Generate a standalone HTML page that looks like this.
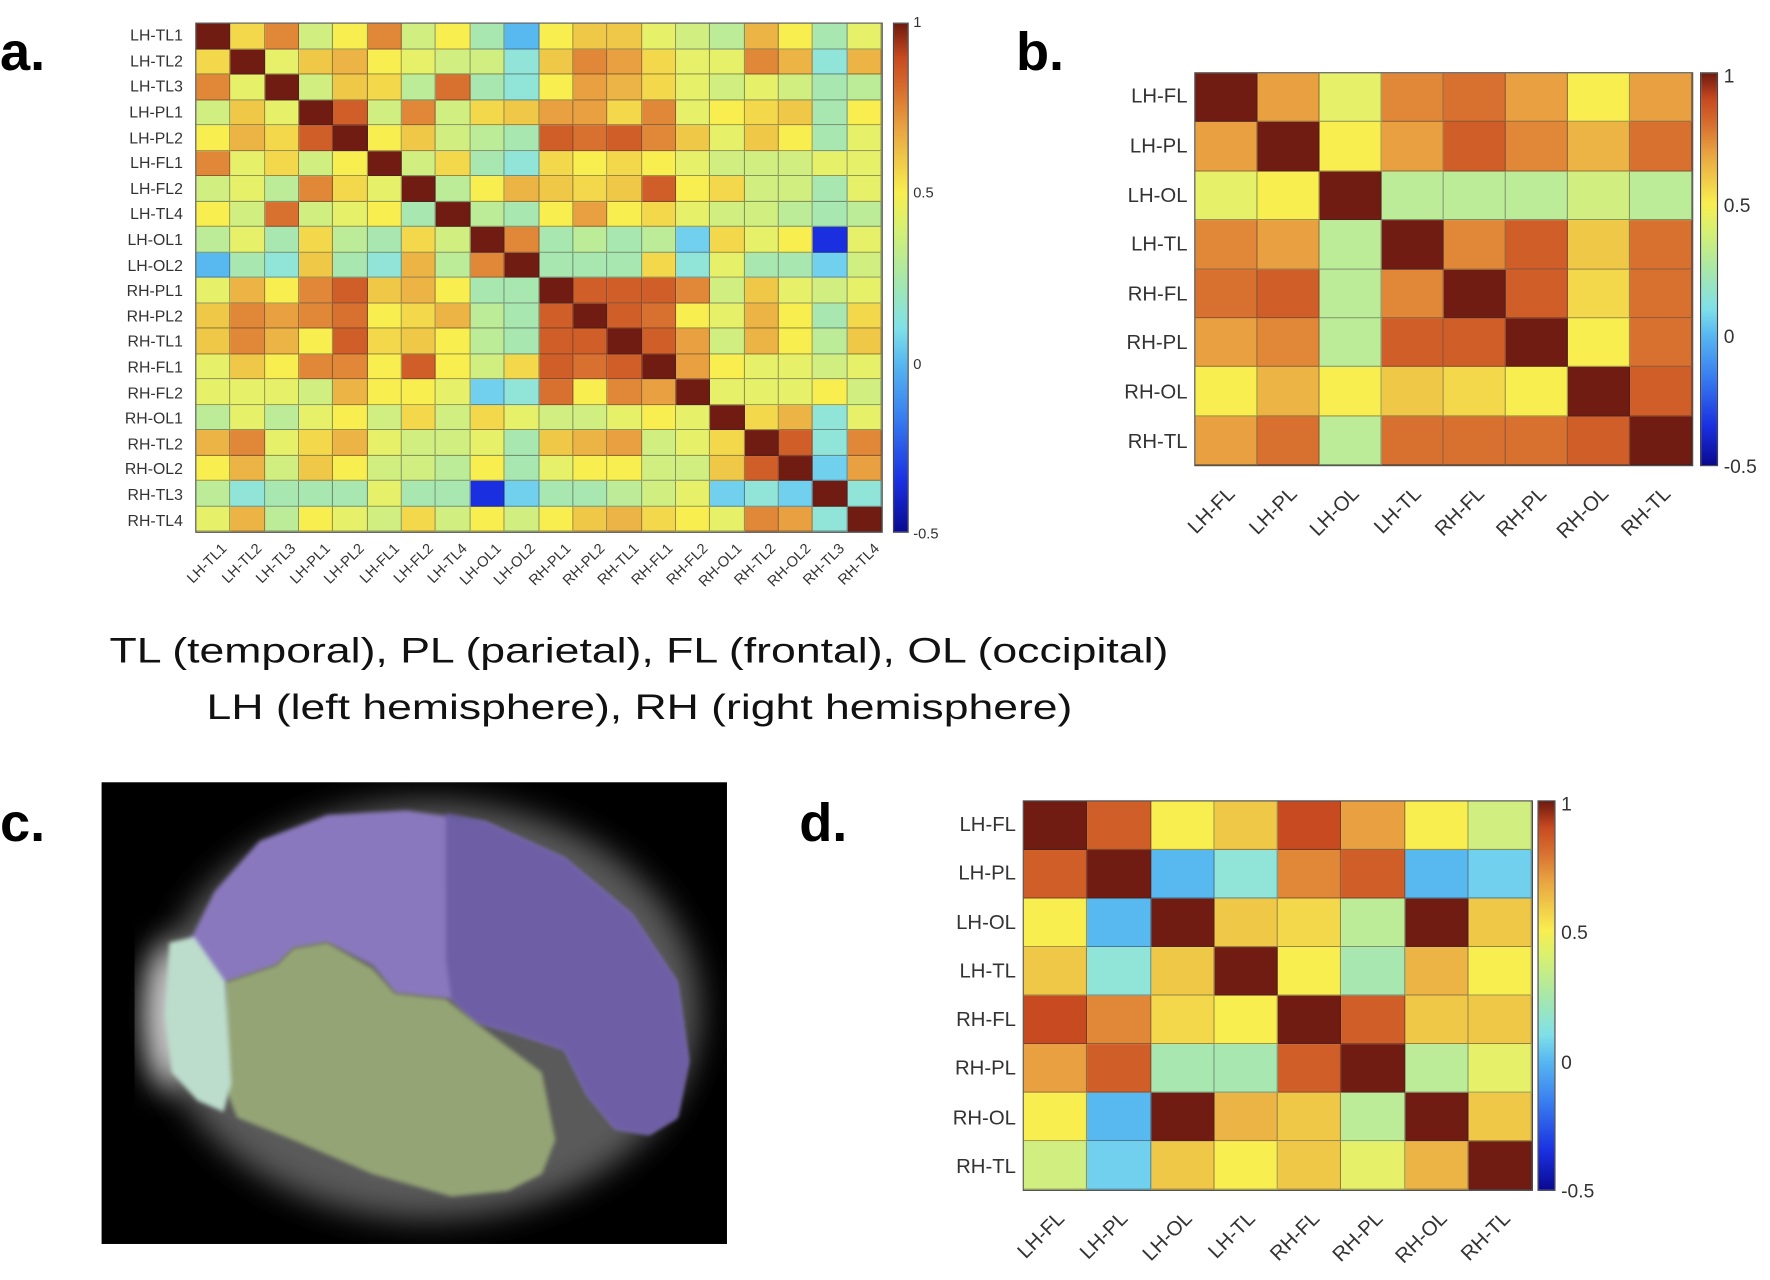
<!DOCTYPE html>
<html><head><meta charset="utf-8"><style>
html,body{margin:0;padding:0;background:#fff;width:1770px;height:1280px;overflow:hidden;}
#w{position:absolute;left:0;top:0;width:1568px;height:1134px;transform:scale(1.12883);transform-origin:0 0;font-family:"Liberation Sans",sans-serif;color:#333;}
svg{position:absolute;left:0;top:0;}
.m{position:absolute;display:grid;border:1px solid #444;box-sizing:border-box;}
.m i{display:block;border-right:1px solid rgba(40,40,40,.45);border-bottom:1px solid rgba(40,40,40,.45);}
.a{background:#1a30e0}.b{background:#58b8f0}.c{background:#70d0ee}.d{background:#90e4d8}.e{background:#a8e8b0}.f{background:#bcec98}.g{background:#d0ef80}.h{background:#e6f068}.i{background:#f8ee50}.j{background:#f4d84c}.k{background:#f0c848}.l{background:#ecb444}.mm{background:#e8a040}.n{background:#e08838}.o{background:#d87030}.p{background:#d05e28}.q{background:#c84a20}.z{background:#701c12}
.rl{position:absolute;display:flex;flex-direction:column;text-align:right;}
.rl div{flex:1;display:flex;align-items:center;justify-content:flex-end;}
.cl{position:absolute;width:0;height:0;}
.cl span{position:absolute;right:0;top:-8px;white-space:nowrap;transform-origin:right center;transform:rotate(-45deg);}
.cb{position:absolute;border:1px solid #444;box-sizing:border-box;background:linear-gradient(to top,#0a0a90 0%,#1a30e0 10%,#3a80f0 23%,#58b8f0 33.3%,#80e0e8 40%,#a8e8a8 50%,#d8f070 60%,#f8ee50 66.7%,#f0c848 73.3%,#e8a040 80%,#d87030 86.7%,#c84a20 93.3%,#6e1a10 100%);}
.t{position:absolute;white-space:nowrap;}
</style></head><body><div id="w">
<svg width="1568" height="1134" viewBox="0 0 1568 1134">
<defs>
<filter id="bl" x="-20%" y="-20%" width="140%" height="140%"><feGaussianBlur stdDeviation="14"/></filter>
<filter id="bl2"><feGaussianBlur stdDeviation="2"/></filter>
<clipPath id="cp"><rect x="90" y="693" width="554" height="409"/></clipPath>
</defs>
<g font-family="Liberation Sans,sans-serif" font-weight="bold" font-size="48" fill="#000">
<text x="0" y="62">a.</text><text x="900" y="62">b.</text><text x="0" y="745">c.</text><text x="708" y="745">d.</text>
</g>
<g font-family="Liberation Sans,sans-serif" font-size="31" fill="#111">
<text x="97" y="587" textLength="938" lengthAdjust="spacingAndGlyphs">TL (temporal), PL (parietal), FL (frontal), OL (occipital)</text>
<text x="183" y="637" textLength="767" lengthAdjust="spacingAndGlyphs">LH (left hemisphere), RH (right hemisphere)</text>
</g>
<rect x="90" y="693" width="554" height="409" fill="#000"/>
<g clip-path="url(#cp)">
<ellipse cx="380" cy="895" rx="240" ry="185" fill="#5a5a5a" filter="url(#bl)"/>
<ellipse cx="150" cy="900" rx="22" ry="65" fill="#ccc" filter="url(#bl)"/>
<path d="M155,890 L165,840 190,790 230,745 290,722 360,718 430,728 500,760 560,810 600,870 610,940 600,990 575,1005 545,1000 520,970 500,930 455,915 420,905 400,885 350,880 330,855 290,835 260,840 245,855 200,870 160,880Z" fill="#8a78be" filter="url(#bl2)"/>
<path d="M395,720 L430,728 500,760 560,810 600,870 610,940 600,990 575,1005 545,1000 520,970 500,930 455,915 420,905 400,885 395,850Z" fill="#6658a0" opacity="0.8" filter="url(#bl2)"/>
<path d="M200,870 L245,855 260,840 290,835 330,858 350,880 395,885 420,905 440,920 480,950 492,1010 480,1040 450,1055 400,1060 330,1040 260,1010 210,990 198,960Z" fill="#94a474" filter="url(#bl2)"/>
<path d="M150,835 L172,830 200,870 205,960 198,985 175,975 152,950 146,900Z" fill="#bcdccc" filter="url(#bl2)"/>
</g>
</svg>

<!-- Panel A -->
<div class="m" style="left:173px;top:20px;width:609px;height:452px;grid-template-columns:repeat(20,1fr);grid-template-rows:repeat(20,1fr)">
<i class=z></i><i class=j></i><i class=n></i><i class=g></i><i class=i></i><i class=n></i><i class=g></i><i class=i></i><i class=e></i><i class=b></i><i class=i></i><i class=k></i><i class=k></i><i class=h></i><i class=g></i><i class=f></i><i class=l></i><i class=i></i><i class=e></i><i class=h></i>
<i class=j></i><i class=z></i><i class=h></i><i class=k></i><i class=l></i><i class=i></i><i class=h></i><i class=g></i><i class=g></i><i class=d></i><i class=k></i><i class=n></i><i class=mm></i><i class=j></i><i class=h></i><i class=h></i><i class=n></i><i class=l></i><i class=d></i><i class=l></i>
<i class=n></i><i class=h></i><i class=z></i><i class=g></i><i class=k></i><i class=j></i><i class=f></i><i class=o></i><i class=e></i><i class=d></i><i class=i></i><i class=mm></i><i class=l></i><i class=j></i><i class=h></i><i class=g></i><i class=h></i><i class=g></i><i class=e></i><i class=f></i>
<i class=g></i><i class=k></i><i class=h></i><i class=z></i><i class=p></i><i class=g></i><i class=n></i><i class=g></i><i class=j></i><i class=k></i><i class=mm></i><i class=mm></i><i class=j></i><i class=n></i><i class=h></i><i class=i></i><i class=j></i><i class=k></i><i class=e></i><i class=i></i>
<i class=i></i><i class=l></i><i class=j></i><i class=p></i><i class=z></i><i class=i></i><i class=k></i><i class=g></i><i class=f></i><i class=e></i><i class=p></i><i class=o></i><i class=p></i><i class=n></i><i class=k></i><i class=h></i><i class=k></i><i class=i></i><i class=e></i><i class=h></i>
<i class=n></i><i class=h></i><i class=j></i><i class=g></i><i class=i></i><i class=z></i><i class=g></i><i class=j></i><i class=e></i><i class=d></i><i class=j></i><i class=i></i><i class=j></i><i class=i></i><i class=h></i><i class=g></i><i class=g></i><i class=g></i><i class=h></i><i class=h></i>
<i class=g></i><i class=h></i><i class=f></i><i class=n></i><i class=j></i><i class=h></i><i class=z></i><i class=f></i><i class=i></i><i class=l></i><i class=k></i><i class=j></i><i class=k></i><i class=p></i><i class=i></i><i class=j></i><i class=g></i><i class=g></i><i class=e></i><i class=h></i>
<i class=i></i><i class=g></i><i class=o></i><i class=g></i><i class=h></i><i class=i></i><i class=e></i><i class=z></i><i class=f></i><i class=e></i><i class=i></i><i class=mm></i><i class=i></i><i class=j></i><i class=h></i><i class=g></i><i class=g></i><i class=f></i><i class=e></i><i class=f></i>
<i class=f></i><i class=h></i><i class=e></i><i class=j></i><i class=f></i><i class=e></i><i class=j></i><i class=g></i><i class=z></i><i class=n></i><i class=e></i><i class=f></i><i class=e></i><i class=f></i><i class=c></i><i class=j></i><i class=h></i><i class=i></i><i class=a></i><i class=h></i>
<i class=b></i><i class=e></i><i class=d></i><i class=k></i><i class=e></i><i class=d></i><i class=l></i><i class=f></i><i class=n></i><i class=z></i><i class=e></i><i class=e></i><i class=e></i><i class=j></i><i class=d></i><i class=h></i><i class=e></i><i class=e></i><i class=c></i><i class=g></i>
<i class=h></i><i class=l></i><i class=i></i><i class=n></i><i class=p></i><i class=k></i><i class=l></i><i class=i></i><i class=e></i><i class=e></i><i class=z></i><i class=p></i><i class=p></i><i class=p></i><i class=n></i><i class=g></i><i class=k></i><i class=h></i><i class=g></i><i class=h></i>
<i class=k></i><i class=n></i><i class=mm></i><i class=n></i><i class=o></i><i class=i></i><i class=j></i><i class=l></i><i class=f></i><i class=e></i><i class=p></i><i class=z></i><i class=p></i><i class=o></i><i class=i></i><i class=h></i><i class=l></i><i class=i></i><i class=e></i><i class=j></i>
<i class=k></i><i class=n></i><i class=l></i><i class=i></i><i class=p></i><i class=j></i><i class=k></i><i class=i></i><i class=f></i><i class=e></i><i class=p></i><i class=p></i><i class=z></i><i class=p></i><i class=mm></i><i class=g></i><i class=l></i><i class=i></i><i class=f></i><i class=k></i>
<i class=h></i><i class=k></i><i class=i></i><i class=n></i><i class=n></i><i class=i></i><i class=p></i><i class=i></i><i class=g></i><i class=j></i><i class=p></i><i class=o></i><i class=p></i><i class=z></i><i class=mm></i><i class=i></i><i class=h></i><i class=h></i><i class=g></i><i class=h></i>
<i class=h></i><i class=h></i><i class=h></i><i class=g></i><i class=l></i><i class=i></i><i class=i></i><i class=h></i><i class=c></i><i class=d></i><i class=o></i><i class=i></i><i class=n></i><i class=mm></i><i class=z></i><i class=h></i><i class=h></i><i class=h></i><i class=i></i><i class=g></i>
<i class=f></i><i class=h></i><i class=f></i><i class=h></i><i class=i></i><i class=g></i><i class=j></i><i class=g></i><i class=j></i><i class=h></i><i class=g></i><i class=g></i><i class=h></i><i class=i></i><i class=h></i><i class=z></i><i class=j></i><i class=l></i><i class=d></i><i class=h></i>
<i class=l></i><i class=n></i><i class=h></i><i class=j></i><i class=l></i><i class=h></i><i class=g></i><i class=g></i><i class=h></i><i class=e></i><i class=k></i><i class=l></i><i class=mm></i><i class=g></i><i class=h></i><i class=j></i><i class=z></i><i class=p></i><i class=d></i><i class=n></i>
<i class=i></i><i class=l></i><i class=g></i><i class=k></i><i class=i></i><i class=g></i><i class=g></i><i class=f></i><i class=i></i><i class=e></i><i class=h></i><i class=i></i><i class=i></i><i class=g></i><i class=g></i><i class=k></i><i class=p></i><i class=z></i><i class=c></i><i class=mm></i>
<i class=f></i><i class=d></i><i class=e></i><i class=e></i><i class=e></i><i class=h></i><i class=e></i><i class=e></i><i class=a></i><i class=c></i><i class=e></i><i class=e></i><i class=f></i><i class=g></i><i class=h></i><i class=c></i><i class=d></i><i class=c></i><i class=z></i><i class=d></i>
<i class=h></i><i class=l></i><i class=f></i><i class=i></i><i class=h></i><i class=g></i><i class=j></i><i class=g></i><i class=i></i><i class=g></i><i class=i></i><i class=k></i><i class=l></i><i class=j></i><i class=i></i><i class=h></i><i class=n></i><i class=mm></i><i class=d></i><i class=z></i>
</div>
<div class="rl" style="left:0;top:20px;width:162px;height:452px;font-size:14px">
<div>LH-TL1</div><div>LH-TL2</div><div>LH-TL3</div><div>LH-PL1</div><div>LH-PL2</div><div>LH-FL1</div><div>LH-FL2</div><div>LH-TL4</div><div>LH-OL1</div><div>LH-OL2</div><div>RH-PL1</div><div>RH-PL2</div><div>RH-TL1</div><div>RH-FL1</div><div>RH-FL2</div><div>RH-OL1</div><div>RH-TL2</div><div>RH-OL2</div><div>RH-TL3</div><div>RH-TL4</div>
</div>
<div style="font-size:13px">
<div class="cl" style="left:198px;top:484px"><span>LH-TL1</span></div>
<div class="cl" style="left:229px;top:484px"><span>LH-TL2</span></div>
<div class="cl" style="left:259px;top:484px"><span>LH-TL3</span></div>
<div class="cl" style="left:290px;top:484px"><span>LH-PL1</span></div>
<div class="cl" style="left:320px;top:484px"><span>LH-PL2</span></div>
<div class="cl" style="left:351px;top:484px"><span>LH-FL1</span></div>
<div class="cl" style="left:381px;top:484px"><span>LH-FL2</span></div>
<div class="cl" style="left:411px;top:484px"><span>LH-TL4</span></div>
<div class="cl" style="left:442px;top:484px"><span>LH-OL1</span></div>
<div class="cl" style="left:472px;top:484px"><span>LH-OL2</span></div>
<div class="cl" style="left:503px;top:484px"><span>RH-PL1</span></div>
<div class="cl" style="left:533px;top:484px"><span>RH-PL2</span></div>
<div class="cl" style="left:564px;top:484px"><span>RH-TL1</span></div>
<div class="cl" style="left:594px;top:484px"><span>RH-FL1</span></div>
<div class="cl" style="left:625px;top:484px"><span>RH-FL2</span></div>
<div class="cl" style="left:655px;top:484px"><span>RH-OL1</span></div>
<div class="cl" style="left:685px;top:484px"><span>RH-TL2</span></div>
<div class="cl" style="left:716px;top:484px"><span>RH-OL2</span></div>
<div class="cl" style="left:746px;top:484px"><span>RH-TL3</span></div>
<div class="cl" style="left:777px;top:484px"><span>RH-TL4</span></div>
</div>
<div class="cb" style="left:791px;top:20px;width:14px;height:452px"></div>
<div style="font-size:13px">
<div class="t" style="left:809px;top:12px">1</div>
<div class="t" style="left:809px;top:163px">0.5</div>
<div class="t" style="left:809px;top:315px">0</div>
<div class="t" style="left:809px;top:465px">-0.5</div>
</div>

<!-- Panel B -->
<div class="m" style="left:1058px;top:64px;width:442px;height:349px;grid-template-columns:repeat(8,1fr);grid-template-rows:repeat(8,1fr)">
<i class=z></i><i class=mm></i><i class=h></i><i class=n></i><i class=o></i><i class=mm></i><i class=i></i><i class=mm></i>
<i class=mm></i><i class=z></i><i class=i></i><i class=mm></i><i class=p></i><i class=n></i><i class=l></i><i class=o></i>
<i class=h></i><i class=i></i><i class=z></i><i class=f></i><i class=f></i><i class=f></i><i class=g></i><i class=f></i>
<i class=n></i><i class=mm></i><i class=f></i><i class=z></i><i class=n></i><i class=p></i><i class=k></i><i class=o></i>
<i class=o></i><i class=p></i><i class=f></i><i class=n></i><i class=z></i><i class=p></i><i class=j></i><i class=o></i>
<i class=mm></i><i class=n></i><i class=f></i><i class=p></i><i class=p></i><i class=z></i><i class=i></i><i class=o></i>
<i class=i></i><i class=l></i><i class=i></i><i class=k></i><i class=j></i><i class=i></i><i class=z></i><i class=p></i>
<i class=mm></i><i class=o></i><i class=f></i><i class=o></i><i class=o></i><i class=o></i><i class=p></i><i class=z></i>
</div>
<div class="rl" style="left:900px;top:64px;width:152px;height:349px;font-size:18px">
<div>LH-FL</div><div>LH-PL</div><div>LH-OL</div><div>LH-TL</div><div>RH-FL</div><div>RH-PL</div><div>RH-OL</div><div>RH-TL</div>
</div>
<div style="font-size:18px">
<div class="cl" style="left:1091px;top:432px"><span>LH-FL</span></div>
<div class="cl" style="left:1146px;top:432px"><span>LH-PL</span></div>
<div class="cl" style="left:1201px;top:432px"><span>LH-OL</span></div>
<div class="cl" style="left:1256px;top:432px"><span>LH-TL</span></div>
<div class="cl" style="left:1312px;top:432px"><span>RH-FL</span></div>
<div class="cl" style="left:1367px;top:432px"><span>RH-PL</span></div>
<div class="cl" style="left:1422px;top:432px"><span>RH-OL</span></div>
<div class="cl" style="left:1477px;top:432px"><span>RH-TL</span></div>
</div>
<div class="cb" style="left:1506px;top:64px;width:16px;height:349px"></div>
<div style="font-size:17px">
<div class="t" style="left:1527px;top:58px">1</div>
<div class="t" style="left:1527px;top:173px">0.5</div>
<div class="t" style="left:1527px;top:289px">0</div>
<div class="t" style="left:1527px;top:404px">-0.5</div>
</div>

<!-- Panel D -->
<div class="m" style="left:906px;top:709px;width:452px;height:346px;grid-template-columns:repeat(8,1fr);grid-template-rows:repeat(8,1fr)">
<i class=z></i><i class=p></i><i class=i></i><i class=k></i><i class=q></i><i class=mm></i><i class=i></i><i class=g></i>
<i class=p></i><i class=z></i><i class=b></i><i class=d></i><i class=n></i><i class=p></i><i class=b></i><i class=c></i>
<i class=i></i><i class=b></i><i class=z></i><i class=k></i><i class=j></i><i class=f></i><i class=z></i><i class=k></i>
<i class=k></i><i class=d></i><i class=k></i><i class=z></i><i class=i></i><i class=e></i><i class=l></i><i class=i></i>
<i class=q></i><i class=n></i><i class=j></i><i class=i></i><i class=z></i><i class=p></i><i class=k></i><i class=k></i>
<i class=mm></i><i class=p></i><i class=e></i><i class=e></i><i class=p></i><i class=z></i><i class=f></i><i class=h></i>
<i class=i></i><i class=b></i><i class=z></i><i class=l></i><i class=k></i><i class=f></i><i class=z></i><i class=k></i>
<i class=g></i><i class=c></i><i class=k></i><i class=i></i><i class=k></i><i class=h></i><i class=l></i><i class=z></i>
</div>
<div class="rl" style="left:750px;top:709px;width:150px;height:346px;font-size:18px">
<div>LH-FL</div><div>LH-PL</div><div>LH-OL</div><div>LH-TL</div><div>RH-FL</div><div>RH-PL</div><div>RH-OL</div><div>RH-TL</div>
</div>
<div style="font-size:18px">
<div class="cl" style="left:940px;top:1074px"><span>LH-FL</span></div>
<div class="cl" style="left:996px;top:1074px"><span>LH-PL</span></div>
<div class="cl" style="left:1053px;top:1074px"><span>LH-OL</span></div>
<div class="cl" style="left:1109px;top:1074px"><span>LH-TL</span></div>
<div class="cl" style="left:1166px;top:1074px"><span>RH-FL</span></div>
<div class="cl" style="left:1222px;top:1074px"><span>RH-PL</span></div>
<div class="cl" style="left:1279px;top:1074px"><span>RH-OL</span></div>
<div class="cl" style="left:1335px;top:1074px"><span>RH-TL</span></div>
</div>
<div class="cb" style="left:1362px;top:709px;width:16px;height:346px"></div>
<div style="font-size:17px">
<div class="t" style="left:1383px;top:703px">1</div>
<div class="t" style="left:1383px;top:817px">0.5</div>
<div class="t" style="left:1383px;top:932px">0</div>
<div class="t" style="left:1383px;top:1046px">-0.5</div>
</div>
</div></body></html>
